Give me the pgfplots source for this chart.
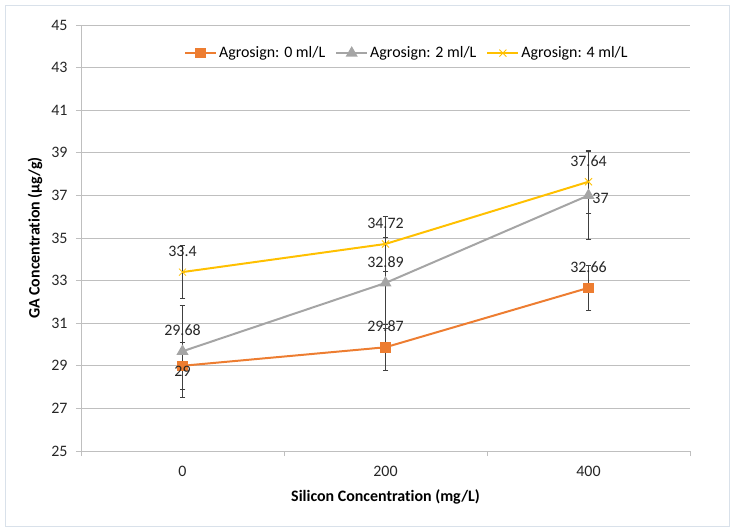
\documentclass[border=0pt]{standalone}
\usepackage{fontspec}
\setmainfont{Carlito}[RawFeature={-liga;-clig;-calt;-dlig}]
\usepackage{pgfplots}
\pgfplotsset{compat=1.18}
\usepackage{pgfplotstable}
\definecolor{cOr}{HTML}{ED7D31}
\definecolor{cGr}{HTML}{A5A5A5}
\definecolor{cYe}{HTML}{FFC000}
\definecolor{cGrid}{HTML}{BFBFBF}
\definecolor{cBorder}{HTML}{D9E1EA}
\pgfplotstableread{
x y err xs ys lab
0 29    1.10 0 -6 29
1 29.87 1.09 0 21 29.87
2 32.66 1.07 0 21 32.66
}\orange
\pgfplotstableread{
x y err xs ys lab
0 29.68 2.14 0 21 29.68
1 32.89 2.12 0 21 32.89
2 37    2.06 12 -3 37
}\gray
\pgfplotstableread{
x y err xs ys lab
0 33.4  1.25 0 21 33.4
1 34.72 1.28 0 21 34.72
2 37.64 1.46 0 21 37.64
}\yellow
\pgfplotsset{myerr/.style={error bars/.cd, y dir=both, y explicit,
    error bar style={draw=black!75, line width=0.6pt},
    error mark options={draw=black!75, mark size=2.8pt, line width=0.6pt, rotate=90}}}
\newcommand{\fs}{\fontsize{16}{19}\selectfont}
\begin{document}
\fs
\begin{tikzpicture}
\useasboundingbox (-81bp,-80bp) rectangle (653bp,451bp);
\draw[cBorder, line width=0.8pt] (-76bp,-75bp) rectangle (648bp,446bp);
\begin{axis}[
  scale only axis, width=609bp, height=426bp,
  xmin=-0.5, xmax=2.5, ymin=25, ymax=45,
  xtick={0,1,2}, xticklabels={0,200,400},
  minor xtick={-0.5,0.5,1.5,2.5},
  ytick={25,27,...,45},
  axis lines*=left,
  axis line style={draw=cGrid, line width=0.8pt},
  ymajorgrids, grid style={draw=cGrid, line width=0.8pt},
  major x tick style={draw=none},
  minor x tick style={draw=cGrid, line width=0.8pt},
  y tick style={draw=cGrid, line width=0.8pt},
  tick align=outside,
  major tick length=5bp, minor tick length=5bp,
  /pgf/number format/assume math mode=true,
  ticklabel style={font=\fs, text=black!85},
  yticklabel style={xshift=-3bp},
  xticklabel style={yshift=-5bp},
  xlabel={\textbf{Silicon Concentrat\kern0pt ion (mg/L)}},
  ylabel={\textbf{GA Concentrat\kern0pt ion (µg/g)}},
  label style={font=\fs},
  xlabel style={at={(axis description cs:0.5,0)}, anchor=center, yshift=-46bp},
  ylabel style={at={(axis description cs:0,0.5)}, anchor=center, yshift=46bp},
  legend columns=3,
  legend style={at={(0.535,0.934)}, anchor=center, draw=none, fill=white,
    font=\fs, inner sep=1bp,
    /tikz/every even column/.append style={column sep=8bp}},
  legend image code/.code={\draw[mark repeat=2,mark phase=2,#1] plot coordinates {(0bp,0bp) (15.5bp,0bp) (31bp,0bp)};},
  every axis plot/.append style={line width=2pt},
  nodes near coords,
  point meta=explicit symbolic,
  visualization depends on={\thisrow{xs}\as\xs},
  visualization depends on={\thisrow{ys}\as\ys},
  nodes near coords style={anchor=center, xshift=\xs bp, yshift=\ys bp, text=black!85, font=\fs},
]
\addplot[cOr, mark=square*, mark size=4.3pt, mark options={solid, fill=cOr}, myerr]
  table[x=x, y=y, y error=err, meta=lab] {\orange};
\addlegendentry{Agrosign: 0 ml/L}
\addplot[cGr, mark=triangle*, mark size=5pt, mark options={solid, fill=cGr}, myerr]
  table[x=x, y=y, y error=err, meta=lab] {\gray};
\addlegendentry{Agrosign: 2 ml/L}
\addplot[cYe, mark=x, mark size=5pt, mark options={solid, line width=0.8pt}, myerr]
  table[x=x, y=y, y error=err, meta=lab] {\yellow};
\addlegendentry{Agrosign: 4 ml/L}
\end{axis}
\end{tikzpicture}
\end{document}
